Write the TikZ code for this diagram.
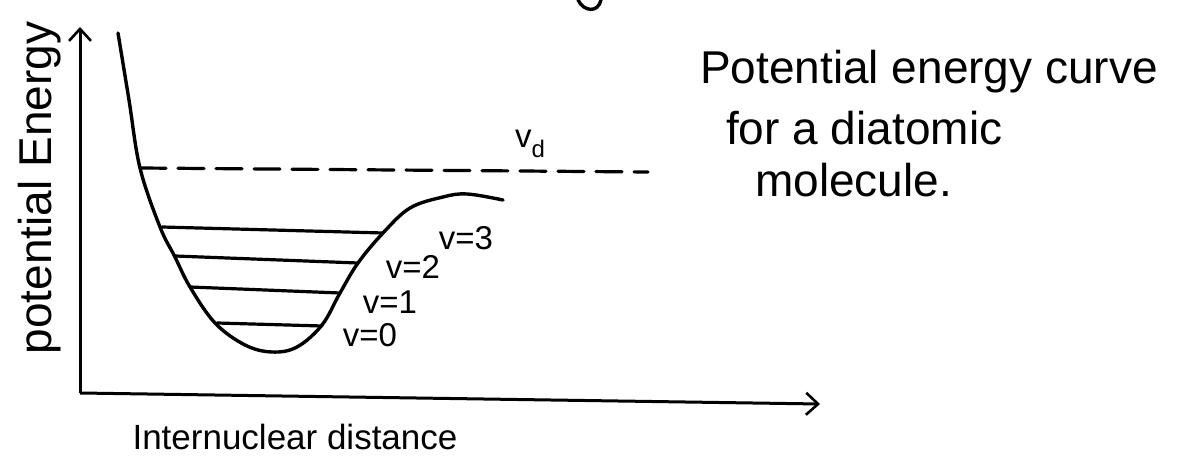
\documentclass[tikz,border=0pt]{standalone}
\usepackage{fontspec}
\setmainfont{Liberation Sans}
\usetikzlibrary{arrows.meta}
\tikzset{
  ink/.style={line width=3.4pt, line cap=round, line join=round, black},
  level/.style={line width=3.2pt, line cap=round},
  axisline/.style={line width=3pt, -{Straight Barb[length=12pt,width=22pt,line width=2.6pt]}},
  lbl/.style={font=\fontsize{33}{33}\selectfont, inner sep=0pt},
  note/.style={font=\fontsize{46}{52}\selectfont, inner sep=0pt, anchor=west},
}
\begin{document}
\begin{tikzpicture}[x=1pt,y=-1pt]
\useasboundingbox (0,0) rectangle (1203,462);
\fill[white] (0,0) rectangle (1203,462);
% axes
\coordinate (O) at (80,393);
\coordinate (Ytop) at (80,27);
\coordinate (Xend) at (820,404);
\draw[axisline] (O) -- (Ytop);
\draw[axisline] (O) -- (Xend);
% potential curve
\draw[ink] plot[smooth, tension=0.6] coordinates {
 (118,33) (129,100) (140,168) (160,227) (175,257) (190,287) (215,323)
 (245,345) (272,352) (297,347) (322,325) (340,293) (358,263) (383,233)
 (410,208) (443,197) (467,194) (503,200)};
% dissociation level
\coordinate (dL) at (140,168);
\coordinate (dR) at (648,172);
\draw[level, dash pattern=on 26pt off 12pt] (dL) -- (dR);
% vibrational levels
\coordinate (l3) at (162,227); \coordinate (r3) at (383,233);
\coordinate (l2) at (175,256); \coordinate (r2) at (358,263);
\coordinate (l1) at (190,287); \coordinate (r1) at (340,293);
\coordinate (l0) at (217,323); \coordinate (r0) at (322,326);
\draw[level] (l3) -- (r3);
\draw[level] (l2) -- (r2);
\draw[level] (l1) -- (r1);
\draw[level] (l0) -- (r0);
% labels
\node[lbl] (v0) at (370,335) {v=0};
\node[lbl] (v1) at (390,302) {v=1};
\node[lbl] (v2) at (413,267) {v=2};
\node[lbl] (v3) at (466,238) {v=3};
\node[lbl] (vd) at (530,144) {v\raisebox{-0.3em}{\fontsize{24}{24}\selectfont d}};
\node[lbl, rotate=90, font=\fontsize{46}{46}\selectfont] (ylab) at (40,188) {potential Energy};
\node[lbl, font=\fontsize{35}{35}\selectfont] (xlab) at (295,437) {Internuclear distance};
\node[note] (n1) at (700,72) {Potential energy curve};
\node[note] (n2) at (726,128) {for a diatomic};
\node[note] (n3) at (755,180) {molecule.};
% fragment of a letter cut by the top edge
\draw[ink] (578,0) .. controls (584,12) and (598,13) .. (601,0);
\end{tikzpicture}
\end{document}
